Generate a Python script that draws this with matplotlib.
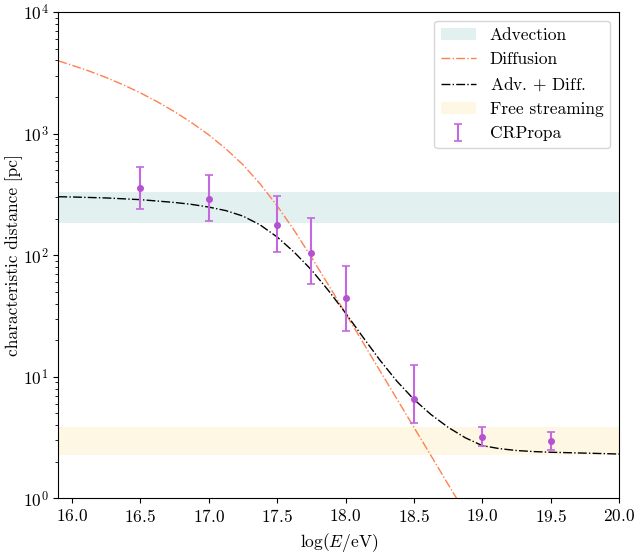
import numpy as np
import matplotlib
matplotlib.use('Agg')
import matplotlib.pyplot as plt

plt.rcParams['font.family'] = 'serif'
plt.rcParams['font.serif'] = ['cmr10']
plt.rcParams['mathtext.fontset'] = 'cm'
plt.rcParams['axes.formatter.use_mathtext'] = True
plt.rcParams['axes.unicode_minus'] = False
plt.rcParams['font.size'] = 12.5

# CRPropa simulation points (log E, distance in pc, lower/upper ends of error bars)
E_sim = [16.5, 17.0, 17.5, 17.75, 18.0, 18.5, 19.0, 19.5]
d_sim = [360, 290, 177, 105, 44.3, 6.58, 3.19, 2.97]
d_low = [239, 193, 106, 57.7, 24.0, 4.18, 2.72, 2.50]
d_high = [535, 455, 309, 201, 81.7, 12.45, 3.89, 3.54]

# diffusion curve
E_diff = [15.9, 16.0, 16.125, 16.25, 16.375, 16.5, 16.625, 16.75, 16.875, 17.0,
          17.125, 17.25, 17.375, 17.5, 17.625, 17.75, 17.875, 18.0, 18.125,
          18.25, 18.375, 18.5, 18.625, 18.75, 18.875]
d_diff = [3963, 3648, 3269, 2891, 2518, 2163, 1824, 1514, 1230, 977,
          750, 555, 387, 255, 160, 96.6, 57.0, 33.3, 19.4,
          11.3, 6.61, 3.85, 2.25, 1.31, 0.766]

# advection + diffusion curve
E_comb = [15.9, 16.0, 16.25, 16.5, 16.75, 16.875, 17.0, 17.125, 17.25, 17.375,
          17.5, 17.625, 17.75, 17.875, 18.0, 18.125, 18.25, 18.375, 18.5,
          18.625, 18.75, 18.875, 19.0, 19.125, 19.25, 19.375, 19.5, 19.625,
          19.75, 19.875, 20.0]
d_comb = [302.7, 301.3, 295.8, 286.4, 271.6, 261.8, 248.9, 232.8, 209.9, 177.8,
          141.3, 105.9, 75.9, 51.3, 33.5, 21.4, 13.8, 9.23, 6.53,
          4.90, 3.85, 3.16, 2.72, 2.57, 2.48, 2.43, 2.40, 2.38,
          2.36, 2.34, 2.32]

# bands
adv_band = (185, 330)
free_band = (2.28, 3.89)

fig = plt.figure(figsize=(6.36, 5.53), dpi=100)
ax = fig.add_axes([0.0917, 0.0986, 0.8816, 0.8797])

xlim = (15.9, 20.0)
ax.fill_between(xlim, adv_band[0], adv_band[1], color='#e3f0f0', lw=0, label='Advection')
ax.plot(E_diff, d_diff, ls='-.', color='#ff8050', lw=1, label='Diffusion')
ax.plot(E_comb, d_comb, ls='-.', color='black', lw=1, label=r'Adv. $+$ Diff.')
ax.fill_between(xlim, free_band[0], free_band[1], color='#fef7e4', lw=0, label='Free streaming')

d_sim = np.array(d_sim)
yerr = [d_sim - np.array(d_low), np.array(d_high) - d_sim]
ax.errorbar(E_sim, d_sim, yerr=yerr, fmt='none', ecolor='#c468e0', elinewidth=1.5,
            capsize=3, capthick=1.2, label='CRPropa')
ax.plot(E_sim, d_sim, 'o', color='#b652d2', ms=4)

ax.set_yscale('log')
ax.set_xlim(*xlim)
ax.set_ylim(1, 1e4)
ax.set_xticks([16.0, 16.5, 17.0, 17.5, 18.0, 18.5, 19.0, 19.5, 20.0])
ax.set_xlabel(r'$\log(E/\mathrm{eV})$')
ax.set_ylabel('characteristic distance [pc]', labelpad=0)
ax.legend(loc='upper right')

fig.savefig('out.png', dpi=100)
